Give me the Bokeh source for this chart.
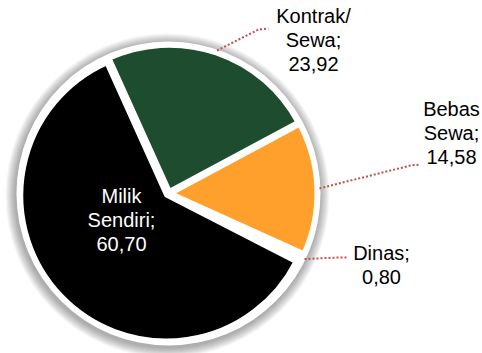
import math
from bokeh.plotting import figure
from bokeh.models import Range1d
from bokeh.embed import file_html
from bokeh.resources import INLINE
from bokeh.core.properties import value

# ---- data ----
categories = ["Kontrak/\nSewa", "Bebas\nSewa", "Dinas", "Milik\nSendiri"]
values = [23.92, 14.58, 0.80, 60.70]
colors = ["#1E4C2E", "#FFA02C", "#FFFFFF", "#000000"]

# ---- layout (screen px, y measured from top) ----
W, H = 482, 353
CX, CY_S = 168, 193
R = 145
EXPLODE = 3
START_DEG = 114.3
FONT = "Liberation Sans"
FS = "20px"
LINE_H = 24
# label block centre x and first-line y; leader elbow and end points
label_pos = [(313, 15), (451, 108), (381, 252), (121, 195)]
label_col = ["#000000", "#000000", "#000000", "#FFFFFF"]
leader_pts = [[(258, 29), (268, 28)], [(410, 165), (420, 164)], [(337, 257), (347, 257)], None]

def Y(ys):
    return H - ys

p = figure(width=W, height=H, x_range=Range1d(0, W), y_range=Range1d(0, H),
           output_backend="svg", toolbar_location=None,
           x_axis_type=None, y_axis_type=None, min_border=0,
           outline_line_color=None, background_fill_color="white",
           border_fill_color="white")
p.grid.visible = False

cx, cy = CX, Y(CY_S)

# soft shadow
for i in range(10):
    p.circle(x=cx - 1, y=cy - 2, radius=R + 17 - i, fill_color="#000000",
             fill_alpha=0.035, line_color=None)
# white outer rim
p.circle(x=cx, y=cy, radius=R + 7, fill_color="white", line_color=None)

total = sum(values)
a = START_DEG
for cat, v, col, lp, lc, lead in zip(categories, values, colors, label_pos, label_col, leader_pts):
    span = v / total * 360.0
    a0, a1 = a - span, a
    mid = math.radians(a - span / 2)
    ox = cx + EXPLODE * math.cos(mid)
    oy = cy + EXPLODE * math.sin(mid)
    p.wedge(x=ox, y=oy, radius=R, start_angle=math.radians(a0), end_angle=math.radians(a1),
            direction="anticlock", fill_color=col, line_color="white", line_width=4)
    a = a0
    # leader line
    if lead is not None:
        sx = cx + (R + 6) * math.cos(mid)
        sy = cy + (R + 6) * math.sin(mid)
        xs = [sx] + [q[0] for q in lead]
        ys = [sy] + [Y(q[1]) for q in lead]
        p.line(xs, ys, line_color="#C0504D", line_width=2, line_dash="2 2")
    # label
    txt = cat + ";\n" + f"{v:.2f}".replace(".", ",")
    lines = txt.split("\n")
    p.text(x=[lp[0]] * len(lines), y=[Y(lp[1] + i * LINE_H) for i in range(len(lines))],
           text=lines, text_font=value(FONT), text_font_size=FS, text_color=lc,
           text_align="center", text_baseline="middle")

open("out.html", "w").write(file_html(p, INLINE))
